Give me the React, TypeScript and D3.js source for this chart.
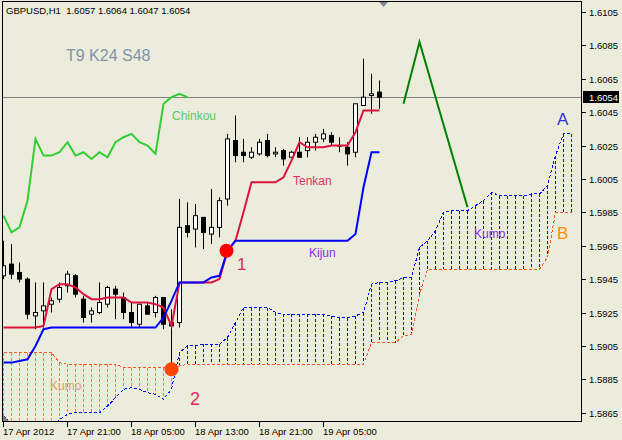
import React from "react";
import * as d3 from "d3";

const W = 622;
const H = 440;

// Hourly GBPUSD candles, 17 Apr 13:00 .. 19 Apr 12:00
const opens = [1.5947,1.5954,1.5949,1.5945,1.5923,1.5926,1.5930,1.5933,1.5941,1.5947,1.5933,1.5924,1.5925,1.5930,1.5939,1.5934,1.5925,1.5918,1.5929,1.5925,1.5934,1.5919,1.5919,1.5977,1.5975,1.5982,1.5972,1.5976,1.5993,1.6028,1.6021,1.6018,1.6020,1.6028,1.6020,1.6022,1.6018,1.6021,1.6022,1.6027,1.6029,1.6031,1.6025,1.6024,1.6021,1.6049,1.6055,1.6057];
const highs = [1.5968,1.5966,1.5955,1.5946,1.5943,1.5943,1.5934,1.5943,1.5950,1.5948,1.5935,1.5928,1.5943,1.5941,1.5941,1.5937,1.5931,1.5930,1.5931,1.5935,1.5934,1.5927,1.5993,1.5991,1.5990,1.5982,1.5999,1.5994,1.6032,1.6043,1.6029,1.6024,1.6029,1.6032,1.6024,1.6023,1.6022,1.6030,1.6030,1.6032,1.6035,1.6033,1.6030,1.6027,1.6050,1.6077,1.6068,1.6064];
const lows = [1.5945,1.5945,1.5943,1.5921,1.5915,1.5916,1.5925,1.5931,1.5937,1.5934,1.5919,1.5919,1.5924,1.5928,1.5921,1.5921,1.5916,1.5916,1.5924,1.5922,1.5915,1.5892,1.5916,1.5970,1.5964,1.5963,1.5966,1.5970,1.5989,1.6015,1.6015,1.6017,1.6019,1.6018,1.6018,1.6013,1.6018,1.6018,1.6018,1.6022,1.6027,1.6025,1.6021,1.6013,1.6018,1.6049,1.6044,1.6047];
const closes = [1.5953,1.5948,1.5945,1.5924,1.5925,1.5929,1.5932,1.5940,1.5948,1.5936,1.5922,1.5926,1.5931,1.5940,1.5936,1.5925,1.5919,1.5930,1.5924,1.5934,1.5918,1.5917,1.5976,1.5973,1.5983,1.5973,1.5976,1.5992,1.6029,1.6019,1.6019,1.6021,1.6027,1.6019,1.6021,1.6017,1.6021,1.6018,1.6027,1.6030,1.6032,1.6027,1.6025,1.6020,1.6050,1.6054,1.6056,1.6054];

const tenkan = [1.5916,1.5916,1.5916,1.5916,1.5916,1.5917,1.5939,1.5942,1.5942,1.5940,1.5936,1.5933,1.5933,1.5934,1.5934,1.5934,1.5931,1.5931,1.5931,1.5930,1.5928,1.5917,1.5943,1.5943,1.5943,1.5943,1.5943,1.5945,1.5962,1.5968,1.5985,1.6003,1.6003,1.6003,1.6003,1.6006,1.6016,1.6027,1.6024,1.6024,1.6024,1.6025,1.6025,1.6025,1.6033,1.6046,1.6046,1.6046];
const kijun = [1.5895,1.5895,1.5896,1.5897,1.5905,1.5915,1.5916,1.5916,1.5916,1.5916,1.5916,1.5916,1.5916,1.5916,1.5916,1.5916,1.5916,1.5916,1.5916,1.5916,1.5922,1.5932,1.5943,1.5943,1.5943,1.5943,1.5946,1.5947,1.5962,1.5968,1.5968,1.5968,1.5968,1.5968,1.5968,1.5968,1.5968,1.5968,1.5968,1.5968,1.5968,1.5968,1.5968,1.5968,1.5972,1.6000,1.6021,1.6021];
const spanA = [1.5863,1.5858,1.5856,1.5855,1.5855,1.5855,1.5856,1.5861,1.5864,1.5865,1.5865,1.5865,1.5865,1.5869,1.5874,1.5879,1.5880,1.5879,1.5877,1.5876,1.5873,1.5879,1.5901,1.5905,1.5905,1.5906,1.5906,1.5906,1.5910,1.5919,1.5928,1.5928,1.5928,1.5928,1.5925,1.5924,1.5924,1.5924,1.5924,1.5924,1.5924,1.5923,1.5922,1.5922,1.5923,1.5925,1.5942,1.5943,1.5943,1.5944,1.5946,1.5946,1.5964,1.5968,1.5974,1.5985,1.5986,1.5986,1.5986,1.5989,1.5992,1.5997,1.5995,1.5995,1.5995,1.5995,1.5996,1.5996,1.6001,1.6019,1.6032,1.6032];
const spanB = [1.5901,1.5901,1.5901,1.5901,1.5901,1.5901,1.5901,1.5895,1.5894,1.5894,1.5894,1.5894,1.5894,1.5894,1.5894,1.5892,1.5892,1.5892,1.5892,1.5892,1.5892,1.5892,1.5893,1.5894,1.5894,1.5894,1.5894,1.5894,1.5894,1.5894,1.5894,1.5894,1.5894,1.5894,1.5894,1.5894,1.5894,1.5894,1.5894,1.5894,1.5894,1.5894,1.5894,1.5894,1.5894,1.5894,1.5907,1.5907,1.5907,1.5907,1.5911,1.5912,1.5936,1.5951,1.5951,1.5951,1.5951,1.5951,1.5951,1.5951,1.5951,1.5951,1.5951,1.5951,1.5951,1.5951,1.5951,1.5951,1.5958,1.5985,1.5985,1.5985];

const chinkouShift = 24;
const forecastBars = [50, 52, 58];
const forecastPrices = [1.6050, 1.6087, 1.5988];

const signalBars = [28, 21];
const signalPrices = [1.5962, 1.5891];

const priceTicks = [1.6105,1.6085,1.6065,1.6045,1.6025,1.6005,1.5985,1.5965,1.5945,1.5925,1.5905,1.5885,1.5865];
const timeTickBars = [0, 8, 16, 24, 32, 40];
const timeTickLabels = ["17 Apr 2012", "17 Apr 21:00", "18 Apr 05:00", "18 Apr 13:00", "18 Apr 21:00", "19 Apr 05:00"];

const header = "GBPUSD,H1  1.6057 1.6064 1.6047 1.6054";

const BG = "#ececdc";
const FONT = "'Liberation Sans', Arial, sans-serif";

export default function App() {
  const x = d3.scaleLinear().domain([0, 71]).range([3.5, 571.5]);
  const y = d3.scaleLinear().domain([1.5865, 1.6105]).range([412.7, 12]);

  const line = d3
    .line<[number, number]>()
    .x((d) => x(d[0]))
    .y((d) => y(d[1]));

  const tenkanPath = line(tenkan.map((v, i) => [i, v]));
  const kijunPath = line(kijun.map((v, i) => [i, v]));
  const chinkouPts: [number, number][] = [];
  for (let i = chinkouShift; i < closes.length; i++) chinkouPts.push([i - chinkouShift, closes[i]]);
  const chinkouPath = line(chinkouPts);
  const spanAPath = line(spanA.map((v, i) => [i, v]));
  const spanBPath = line(spanB.map((v, i) => [i, v]));
  const forecastPath = line(forecastBars.map((b, k) => [b, forecastPrices[k]]));

  const last = closes[closes.length - 1];

  return (
    <svg
      width={W}
      height={H}
      style={{ position: "absolute", left: 0, top: 0, background: BG }}
      fontFamily={FONT}
    >
      <defs>
        <clipPath id="plot">
          <rect x={3} y={2} width={578} height={419} />
        </clipPath>
      </defs>
      <rect x={0} y={0} width={W} height={H} fill={BG} />

      <g clipPath="url(#plot)">
        {/* bid line */}
        <line x1={2} x2={582} y1={Math.round(y(last)) + 0.5} y2={Math.round(y(last)) + 0.5} stroke="#808080" strokeWidth={1} />

        {/* kumo hatching */}
        {spanA.map((a, i) => {
          const b = spanB[i];
          const up = a >= b;
          return (
            <line
              key={"h" + i}
              x1={x(i)}
              x2={x(i)}
              y1={Math.round(y(Math.max(a, b)))}
              y2={Math.round(y(Math.min(a, b)))}
              stroke={up ? "#0000ff" : "#f07a55"}
              strokeWidth={1}
              strokeDasharray="3,2"
              shapeRendering="crispEdges"
            />
          );
        })}
        <path d={spanAPath || ""} fill="none" stroke="#0000ff" strokeWidth={1} strokeDasharray="3,2" shapeRendering="crispEdges" />
        <path d={spanBPath || ""} fill="none" stroke="#ff5522" strokeWidth={1} strokeDasharray="3,2" shapeRendering="crispEdges" />

        {/* chinkou */}
        <path d={chinkouPath || ""} fill="none" stroke="#32cd32" strokeWidth={2} />

        {/* candles */}
        {opens.map((o, i) => {
          const c = closes[i];
          const cx = x(i);
          const bull = c > o;
          const top = y(Math.max(o, c));
          const bot = y(Math.min(o, c));
          return (
            <g key={"c" + i}>
              <line x1={cx} x2={cx} y1={y(highs[i])} y2={y(lows[i])} stroke="#000" strokeWidth={1} />
              <rect
                x={cx - 2}
                y={top}
                width={4}
                height={Math.max(bot - top, 0.5)}
                fill={bull ? "#ffffff" : "#000000"}
                stroke="#000"
                strokeWidth={1}
              />
            </g>
          );
        })}

        {/* tenkan / kijun */}
        <path d={tenkanPath || ""} fill="none" stroke="#dc143c" strokeWidth={2} />
        <path d={kijunPath || ""} fill="none" stroke="#0000ff" strokeWidth={2} />

        {/* forecast */}
        <path d={forecastPath || ""} fill="none" stroke="#008000" strokeWidth={2} />

        {/* signal dots */}
        <circle cx={x(signalBars[0]) - 1} cy={y(signalPrices[0])} r={7} fill="#ff0000" />
        <circle cx={x(signalBars[1])} cy={y(signalPrices[1])} r={7} fill="#ff4500" />

        <polygon points="3,415 3,422 10,422" fill="#808080" />
      </g>

      {/* shift marker */}
      <polygon points="379,2 388,2 383.5,7" fill="#7f8a96" />

      {/* frame */}
      <rect x={2.5} y={1.5} width={579} height={420} fill="none" stroke="#000" strokeWidth={1} />

      {/* price axis */}
      {priceTicks.map((p) => {
        const yy = Math.round(y(p)) + 0.5;
        return (
          <g key={"p" + p}>
            <line x1={582} x2={586} y1={yy} y2={yy} stroke="#000" />
            <text x={589} y={yy + 3.5} fontSize={9.5} fill="#000">
              {p.toFixed(4)}
            </text>
          </g>
        );
      })}
      <rect x={583} y={91} width={36} height={12} fill="#000" />
      <text x={589} y={y(last) + 3.5} fontSize={9.5} fill="#fff">
        {last.toFixed(4)}
      </text>

      {/* time axis */}
      {timeTickBars.map((b, k) => (
        <g key={"t" + b}>
          <line x1={x(b)} x2={x(b)} y1={422} y2={427} stroke="#000" />
          <text x={x(b) - 0.5} y={435} fontSize={9.5} fill="#000">
            {timeTickLabels[k]}
          </text>
        </g>
      ))}

      {/* labels */}
      <text x={6} y={14} fontSize={9.5} fill="#000" style={{ whiteSpace: "pre" }}>
        {header}
      </text>
      <text x={66} y={61} fontSize={16} fill="#8292aa">T9 K24 S48</text>
      <text x={172} y={120} fontSize={12} fill="#55cc55">Chinkou</text>
      <text x={293} y={185} fontSize={12} fill="#e0306a">Tenkan</text>
      <text x={309} y={257} fontSize={12} fill="#8a2be2">Kijun</text>
      <text x={474} y={238} fontSize={12} fill="#8a2be2">Kumo</text>
      <text x={50} y={390} fontSize={12} fill="#dba15c">Kumo</text>
      <text x={557} y={125} fontSize={17} fill="#3333dd">A</text>
      <text x={557} y={239} fontSize={17} fill="#ff8c00">B</text>
      <text x={237} y={270} fontSize={17} fill="#dc2860">1</text>
      <text x={190} y={405} fontSize={18} fill="#dc2860">2</text>
    </svg>
  );
}
